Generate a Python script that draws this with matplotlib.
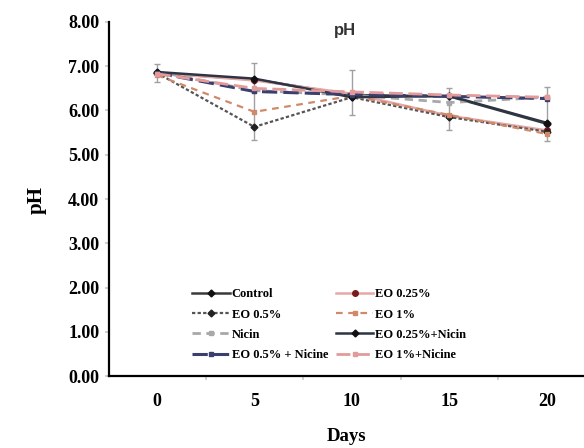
import matplotlib
matplotlib.use("Agg")
import matplotlib.pyplot as plt
import numpy as np

days = ["0", "5", "10", "15", "20"]
yticks = [0, 1, 2, 3, 4, 5, 6, 7, 8]

control = [6.85, 6.70, 6.35, 6.32, 5.70]
eo_025 = [6.85, 6.68, 6.38, 5.88, 5.55]
eo_05 = [6.85, 5.63, 6.30, 5.85, 5.52]
eo_1 = [6.80, 5.97, 6.33, 5.90, 5.47]
nicin = [6.88, 6.45, 6.35, 6.18, 6.30]
eo_025_nicin = [6.87, 6.72, 6.30, 6.33, 5.72]
eo_05_nicine = [6.85, 6.43, 6.36, 6.32, 6.27]
eo_1_nicine = [6.83, 6.50, 6.42, 6.35, 6.30]

err_top = [7.05, 7.07, 6.92, 6.50, 6.52]
err_bottom = [6.65, 5.33, 5.90, 5.56, 5.30]

serif = "Liberation Serif"

fig = plt.figure(figsize=(5.84, 4.48), dpi=100)
ax = fig.add_axes([109/584, 72/448, 1 - 109/584, (376-22)/448])

x = np.arange(len(days))

# error bars
top = np.array(err_top); bot = np.array(err_bottom)
mid = (top + bot) / 2
half = (top - bot) / 2
ax.errorbar(x, mid, yerr=half, fmt="none", ecolor="#a0a0a0", elinewidth=1.0,
            capsize=2, capthick=1.0, zorder=1)

series = [
    ("Control", control, dict(color="#3a3a3a", ls="-", lw=1.8, marker="D", ms=3.5, mfc="#111111", mec="#111111")),
    ("EO 0.25%", eo_025, dict(color="#e5a8a8", ls="-", lw=1.8, marker="o", ms=4, mfc="#7a1a1a", mec="#7a1a1a")),
    ("EO 0.5%", eo_05, dict(color="#555555", ls=(0, (1.5, 1)), lw=1.6, marker="D", ms=3.5, mfc="#222222", mec="#222222")),
    ("EO 1%", eo_1, dict(color="#d08a6a", ls=(0, (3, 2.5)), lw=1.6, marker="s", ms=3, mfc="#d08a6a", mec="#d08a6a")),
    ("Nicin", nicin, dict(color="#a8a8a8", ls=(0, (3, 2)), lw=2.0, marker="s", ms=3, mfc="#a8a8a8", mec="#a8a8a8")),
    ("EO 0.25%+Nicin", eo_025_nicin, dict(color="#2e3444", ls="-", lw=1.8, marker="D", ms=3.5, mfc="#111111", mec="#111111")),
    ("EO 0.5% + Nicine", eo_05_nicine, dict(color="#3a3f6e", ls=(0, (5, 2)), lw=2.2, marker="s", ms=3, mfc="#3a3f6e", mec="#3a3f6e")),
    ("EO 1%+Nicine", eo_1_nicine, dict(color="#e29a9a", ls=(0, (5, 2)), lw=2.0, marker="s", ms=3, mfc="#e29a9a", mec="#e29a9a")),
]

handles = []
for name, vals, st in series:
    h, = ax.plot(x, vals, label=name, zorder=3, **st)
    handles.append(h)

ax.set_xlim(-0.49, 4.38)
ax.set_ylim(0, 8)
ax.set_yticks(yticks)
ax.set_yticklabels([f"{v:.2f}" for v in yticks])
ax.set_xticks(x)
ax.set_xticklabels(days)
ax.set_xticks(x[:-1] + 0.5, minor=True)

for s in ["top", "right"]:
    ax.spines[s].set_visible(False)
for s in ["left", "bottom"]:
    ax.spines[s].set_linewidth(1.6)
    ax.spines[s].set_color("black")

ax.tick_params(axis="y", which="major", length=3, color="#c8c8c8", width=1.2, pad=4)
ax.tick_params(axis="x", which="major", length=0, pad=12)
ax.tick_params(axis="x", which="minor", length=3, color="#c8c8c8", width=1.2)

for lab in ax.get_yticklabels() + ax.get_xticklabels():
    lab.set_fontfamily(serif)
    lab.set_fontweight("bold")
    lab.set_fontsize(13)

ax.set_xlabel("Days", fontfamily=serif, fontweight="bold", fontsize=13.5, labelpad=13)
fig.text(0.062, 1 - 200/448, "pH", rotation=90, fontfamily=serif, fontweight="bold",
         fontsize=15, ha="center", va="center")

fig.text(345/584, 1 - 30/448, "pH", fontfamily="Liberation Sans", fontweight="bold",
         fontsize=12, color="#333333", ha="center", va="center")

# legend in two columns, row-major order
order = [0, 2, 4, 6, 1, 3, 5, 7]
leg = ax.legend([handles[i] for i in order], [series[i][0] for i in order],
                ncol=2, loc="upper left", bbox_to_anchor=(0.165, 0.262),
                frameon=False, prop=dict(family=serif, weight="bold", size=9),
                handlelength=3.0, handletextpad=0.15, columnspacing=0.6,
                labelspacing=0.66, borderaxespad=0)

fig.savefig("out.png", dpi=100)
